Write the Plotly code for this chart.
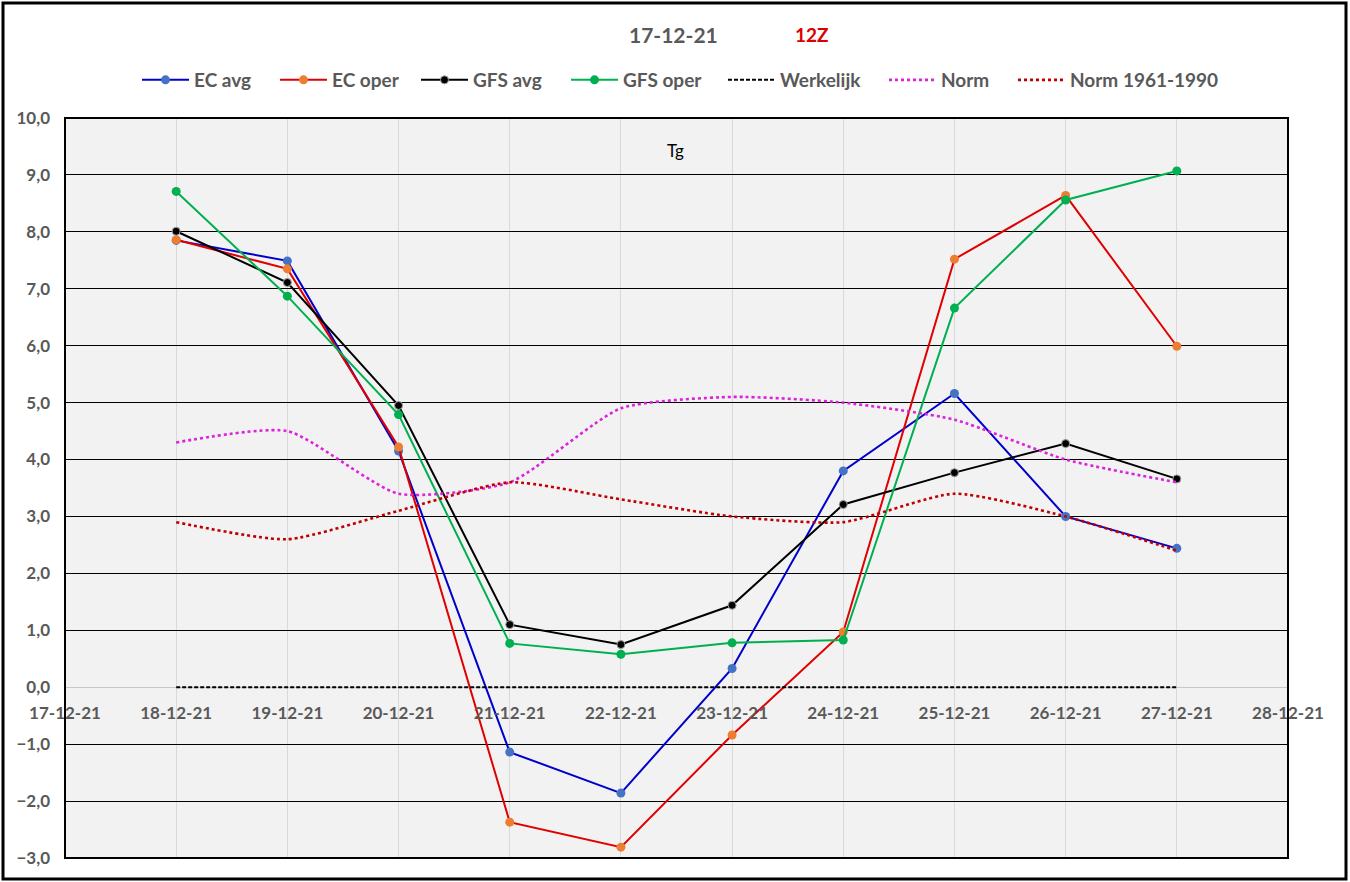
import plotly.graph_objects as go

# ─── DATA ───
dagen = ["2021-12-18", "2021-12-19", "2021-12-20", "2021-12-21", "2021-12-22",
         "2021-12-23", "2021-12-24", "2021-12-25", "2021-12-26", "2021-12-27"]

ec_avg = [7.85, 7.49, 4.15, -1.14, -1.86, 0.33, 3.80, 5.16, 3.00, 2.44]
ec_oper = [7.86, 7.35, 4.22, -2.37, -2.81, -0.84, 0.97, 7.52, 8.64, 5.99]
gfs_avg = [8.01, 7.11, 4.95, 1.10, 0.75, 1.44, 3.21, 3.77, 4.28, 3.66]
gfs_oper = [8.71, 6.87, 4.79, 0.77, 0.58, 0.78, 0.83, 6.66, 8.56, 9.07]
werkelijk = [0, 0, 0, 0, 0, 0, 0, 0, 0, 0]
norm = [4.3, 4.5, 3.4, 3.6, 4.9, 5.1, 5.0, 4.7, 4.0, 3.6]
norm_6190 = [2.9, 2.6, 3.1, 3.6, 3.3, 3.0, 2.9, 3.4, 3.0, 2.4]

run_datum = "17-12-21"
run_uur = "12Z"

# ─── LAYOUT HULP (pixels -> paper) ───
W, H = 1350, 882
L, R, T, B = 65, 1288, 118, 858


def px(x):
    return (x - L) / (R - L)


def py(y):
    return (B - y) / (B - T)


FONT = "Lato"
GRIJS = "#595959"
ITEMW = 47  # lengte lijntje in legenda

fig = go.Figure()

series = [
    ("EC avg", ec_avg, dict(color="#0000CC", width=2), dict(color="#4472C4", size=9)),
    ("EC oper", ec_oper, dict(color="#E00000", width=2), dict(color="#ED7D31", size=9)),
    ("GFS avg", gfs_avg, dict(color="#000000", width=2),
     dict(color="#000000", size=8, line=dict(color="#A0A0A0", width=1))),
    ("GFS oper", gfs_oper, dict(color="#00B050", width=2), dict(color="#00B050", size=9)),
]
for i, (naam, waarden, lijn, marker) in enumerate(series):
    fig.add_trace(go.Scatter(x=dagen, y=waarden, name=naam, mode="lines+markers",
                             line=lijn, marker=marker,
                             legend="legend" if i == 0 else f"legend{i + 1}"))

fig.add_trace(go.Scatter(x=dagen, y=werkelijk, name="Werkelijk", mode="lines", legend="legend5",
                         line=dict(color="#000000", width=2, dash="4px,2px")))
fig.add_trace(go.Scatter(x=dagen, y=norm, name="Norm", mode="lines", legend="legend6",
                         line=dict(color="#DD22DD", width=2.6, dash="dot", shape="spline", smoothing=0.6)))
fig.add_trace(go.Scatter(x=dagen, y=norm_6190, name="Norm 1961-1990", mode="lines", legend="legend7",
                         line=dict(color="#C00000", width=2.6, dash="dot", shape="spline", smoothing=0.6)))

# begin van de legendatekst per item (px)
tekst_start = [194, 332, 473, 623, 780, 941, 1070]
legendas = {}
for i, tx in enumerate(tekst_start):
    key = "legend" if i == 0 else f"legend{i + 1}"
    legendas[key] = dict(orientation="h", x=px(tx - 40 - (ITEMW - 30)), xanchor="left",
                         y=py(80), yanchor="middle", itemwidth=ITEMW,
                         font=dict(family=FONT, size=19, color=GRIJS, weight=700),
                         bgcolor="rgba(0,0,0,0)", borderwidth=0)

fig.update_layout(
    width=W, height=H,
    margin=dict(l=L, r=W - R, t=T, b=H - B),
    paper_bgcolor="white", plot_bgcolor="#F2F2F2",
    separators=",.",
    font=dict(family=FONT, color=GRIJS),
    showlegend=True,
    **legendas,
)

fig.update_xaxes(
    type="date", range=["2021-12-17", "2021-12-28"],
    dtick=86400000, tickformat="%d-%m-%y",
    showgrid=True, gridcolor="#D9D9D9", gridwidth=1,
    showline=False, zeroline=False, ticks="",
    anchor="free", position=3 / 13,
    tickfont=dict(family=FONT, size=17, color=GRIJS, weight=700),
    ticklabelstandoff=14,
)
fig.update_yaxes(
    range=[-3, 10], dtick=1, tickformat=".1f",
    showgrid=True, gridcolor="#000000", gridwidth=1,
    zeroline=True, zerolinecolor="#C8C8C8", zerolinewidth=1,
    showline=False, ticks="",
    tickfont=dict(family=FONT, size=17, color=GRIJS, weight=700),
    ticklabelstandoff=14,
)

# kader rond plotgebied en rond de hele grafiek
fig.add_shape(type="rect", xref="paper", yref="paper", x0=0, x1=1, y0=0, y1=1,
              line=dict(color="#000000", width=2), layer="above")
fig.add_shape(type="rect", xref="paper", yref="paper",
              x0=px(3), x1=px(1346), y0=py(879), y1=py(3),
              line=dict(color="#000000", width=3), layer="above")

# titel
fig.add_annotation(text=run_datum, xref="paper", yref="paper", x=px(673), y=py(35),
                   xanchor="center", yanchor="middle", showarrow=False,
                   font=dict(family=FONT, size=21, color=GRIJS, weight=700))
fig.add_annotation(text=run_uur, xref="paper", yref="paper", x=px(812), y=py(35),
                   xanchor="center", yanchor="middle", showarrow=False,
                   font=dict(family=FONT, size=19, color="#DD0000", weight=700))
fig.add_annotation(text="Tg", xref="paper", yref="paper", x=px(675), y=py(150),
                   xanchor="center", yanchor="middle", showarrow=False,
                   font=dict(family=FONT, size=17, color="#000000"))

fig.write_html("out.html", config={"displayModeBar": False},
               post_script="document.body.style.margin='0px';")
